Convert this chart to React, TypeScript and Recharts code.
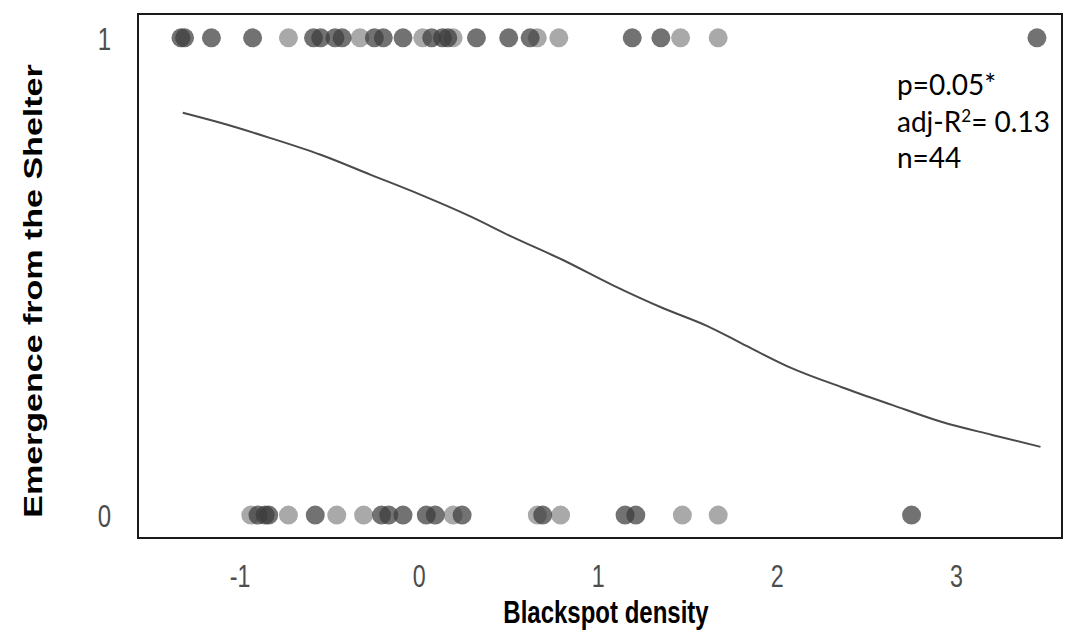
import {
  ComposedChart,
  Line,
  ReferenceArea,
  Scatter,
  XAxis,
  YAxis,
} from "recharts";

// emergence = 1 (top row), dark and light points
const topDarkX = [-1.33, -1.31, -1.16, -0.93, -0.59, -0.55, -0.47, -0.43, -0.25, -0.2, -0.09, 0.07, 0.13, 0.16, 0.32, 0.5, 0.62, 1.19, 1.35, 3.45];
const topLightX = [-0.73, -0.33, 0.02, 0.19, 0.66, 0.78, 1.46, 1.67];
// emergence = 0 (bottom row)
const bottomDarkX = [-0.9, -0.86, -0.84, -0.58, -0.21, -0.17, -0.09, 0.04, 0.09, 0.24, 0.69, 1.15, 1.21, 2.75];
const bottomLightX = [-0.94, -0.73, -0.46, -0.31, 0.19, 0.66, 0.79, 1.47, 1.67];

// fitted curve
const curveX = [-1.32, -1.11, -0.83, -0.55, -0.27, 0.01, 0.28, 0.52, 0.8, 1.08, 1.36, 1.61, 1.8, 2.08, 2.36, 2.64, 2.92, 3.2, 3.47];
const curveY = [0.843, 0.822, 0.79, 0.755, 0.713, 0.671, 0.627, 0.583, 0.535, 0.482, 0.434, 0.396, 0.36, 0.308, 0.268, 0.231, 0.195, 0.168, 0.143];

const xTicks = [-1, 0, 1, 2, 3];
const yTicks = [0, 1];
const X_MIN = -1.57;
const X_MAX = 3.59;
const Y_MIN = -0.048;
const Y_MAX = 1.05;

const toPoints = (xs: number[], y: number) => xs.map((x) => ({ x, y }));
const curveData = curveX.map((x, i) => ({ x, y: curveY[i] }));

const dot = (fill: string) => (props: any) =>
  <circle cx={props.cx} cy={props.cy} r={9.5} fill={fill} fillOpacity={0.72} />;

// the original figure was squeezed sideways, so the R-style text is narrow
const SQUEEZE = 0.75;
const FONT = "Liberation Sans, Arial, sans-serif";

const XTick = (props: any) => (
  <text
    transform={`translate(${props.x},${props.y + 49}) scale(${SQUEEZE},1)`}
    textAnchor="middle"
    fontSize={31}
    fill="#4d4d4d"
    fontFamily={FONT}
  >
    {props.payload.value}
  </text>
);

const YTick = (props: any) => (
  <text
    transform={`translate(${props.x - 27},${props.y + 12}) scale(${SQUEEZE},1)`}
    textAnchor="end"
    fontSize={32}
    fill="#4d4d4d"
    fontFamily={FONT}
  >
    {props.payload.value}
  </text>
);

export default function App() {
  return (
    <div style={{ position: "absolute", left: 0, top: 0, width: 1066, height: 630, background: "#fff" }}>
      <ComposedChart width={1066} height={630} margin={{ top: 14, right: 4, left: 0, bottom: 0 }}>
        <XAxis
          type="number"
          dataKey="x"
          domain={[X_MIN, X_MAX]}
          ticks={xTicks}
          allowDataOverflow
          axisLine={false}
          tickLine={false}
          tickSize={0}
          tickMargin={0}
          tick={<XTick />}
          height={92}
          label={() => (
            <text
              transform={`translate(606,623) scale(${SQUEEZE},1)`}
              textAnchor="middle"
              fontSize={32}
              fontWeight={700}
              fill="#000"
              fontFamily={FONT}
            >
              Blackspot density
            </text>
          )}
        />
        <YAxis
          type="number"
          dataKey="y"
          domain={[Y_MIN, Y_MAX]}
          ticks={yTicks}
          allowDataOverflow
          axisLine={false}
          tickLine={false}
          tickSize={0}
          tickMargin={0}
          tick={<YTick />}
          width={138}
          label={() => (
            <text
              transform={`translate(42,291) scale(${SQUEEZE},1) rotate(-90)`}
              textAnchor="middle"
              fontSize={34}
              fontWeight={700}
              fill="#000"
              fontFamily={FONT}
            >
              Emergence from the Shelter
            </text>
          )}
        />
        <ReferenceArea x1={X_MIN} x2={X_MAX} y1={Y_MIN} y2={Y_MAX} fill="none" stroke="#1a1a1a" strokeWidth={2} />
        <Scatter data={toPoints(topLightX, 1)} shape={dot("#888888")} isAnimationActive={false} />
        <Scatter data={toPoints(bottomLightX, 0)} shape={dot("#888888")} isAnimationActive={false} />
        <Scatter data={toPoints(topDarkX, 1)} shape={dot("#3c3c3c")} isAnimationActive={false} />
        <Scatter data={toPoints(bottomDarkX, 0)} shape={dot("#3c3c3c")} isAnimationActive={false} />
        <Line
          data={curveData}
          dataKey="y"
          type="monotone"
          stroke="#4a4a4a"
          strokeWidth={2}
          dot={false}
          isAnimationActive={false}
        />
      </ComposedChart>
      <div
        style={{
          position: "absolute",
          left: 897,
          top: 66,
          fontFamily: "Lato, 'Open Sans', sans-serif",
          fontSize: 28,
          lineHeight: "36.5px",
          color: "#000",
        }}
      >
        <div>p=0.05*</div>
        <div>
          adj-R<sup style={{ fontSize: 17, lineHeight: 0 }}>2</sup>= 0.13
        </div>
        <div>n=44</div>
      </div>
    </div>
  );
}
